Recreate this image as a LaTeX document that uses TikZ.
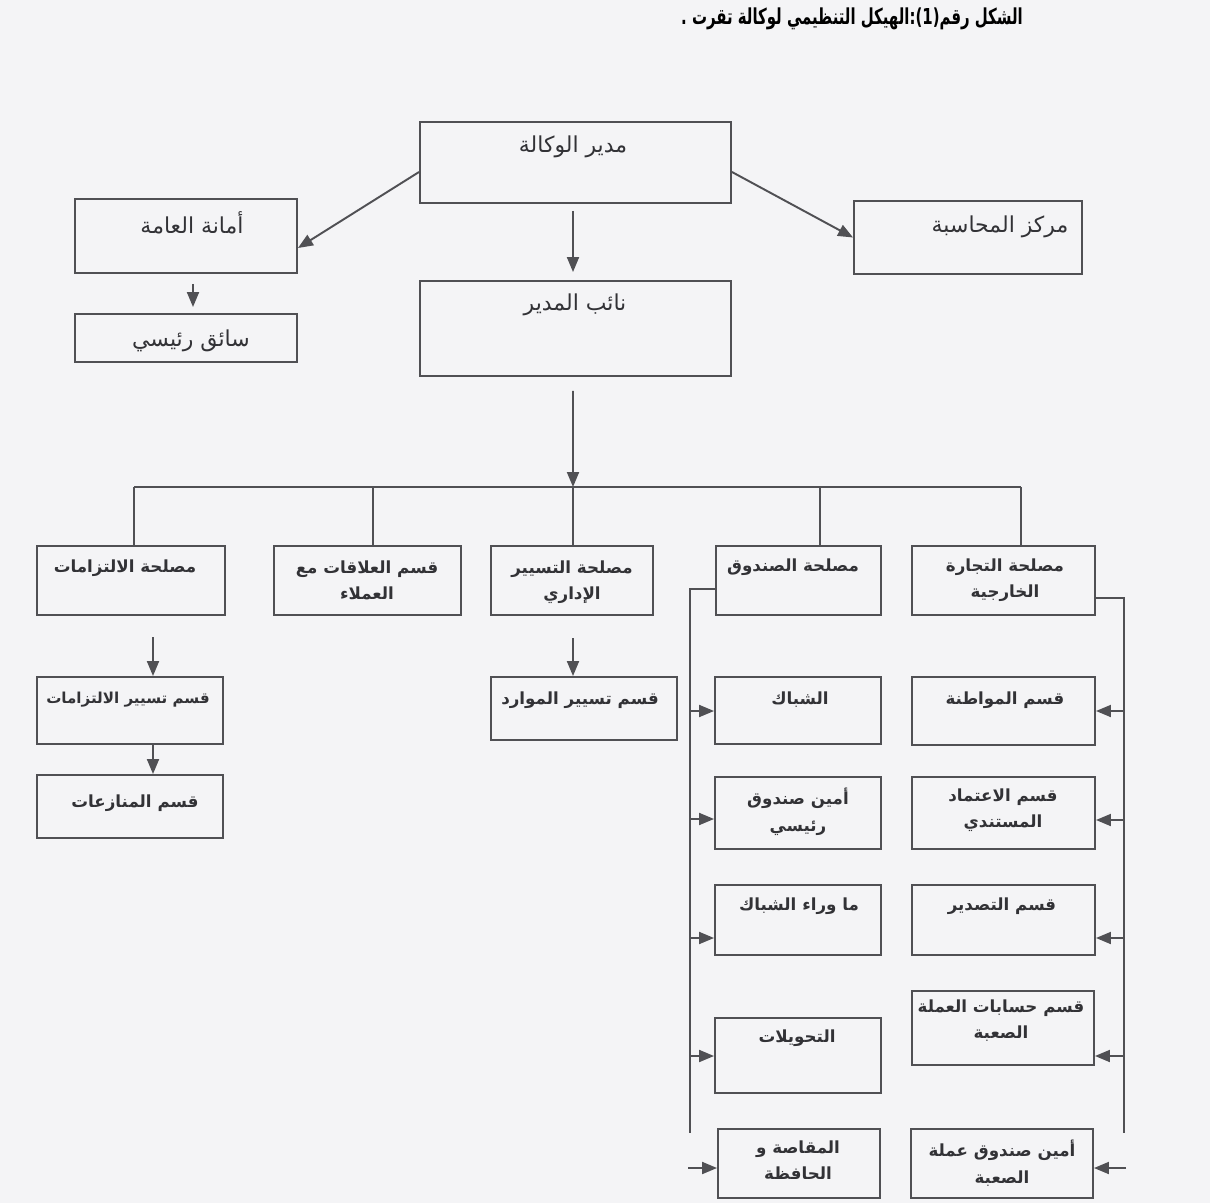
\documentclass[tikz,border=0pt]{standalone}
\usepackage{fontspec}
\usetikzlibrary{arrows.meta,fit,calc}
\TeXXeTstate=1
\newfontfamily\arabicfont[Script=Arabic]{DejaVu Sans}
\newcommand{\artxt}[1]{{\arabicfont\beginR #1\endR}}
\definecolor{bgc}{RGB}{244,244,246}
\definecolor{lnc}{RGB}{80,80,84}
\definecolor{txc}{RGB}{50,50,54}
\tikzset{
  box/.style={draw=lnc, line width=1.1pt, inner sep=0pt, rectangle},
  ln/.style={draw=lnc, line width=1.1pt},
  arr/.style={ln, -{Triangle[length=0.3cm,width=0.24cm]}},
  bigtxt/.style={text=txc, font=\fontsize{12.5}{16}\selectfont, inner sep=0pt},
  smalltxt/.style={text=txc, font=\bfseries\fontsize{9.5}{15}\selectfont, inner sep=0pt, align=center},
  ttl/.style={text=black, font=\bfseries\fontsize{12.5}{16}\selectfont, inner sep=0pt, xscale=0.68, transform shape}
}
\begin{document}
\begin{tikzpicture}[x=0.02cm,y=-0.02cm]
\fill[bgc] (0,0) rectangle (1210,1203);
\useasboundingbox (0,0) rectangle (1210,1203);

% title
\node[ttl] (title) at (852,19) {\artxt{الشكل رقم(1):الهيكل التنظيمي لوكالة تقرت .}};

% top boxes
\node[box, fit={(420,122)(731,203)}] (dir) {};
\node[box, fit={(75,199)(297,273)}] (sec) {};
\node[box, fit={(854,201)(1082,274)}] (acc) {};
\node[box, fit={(420,281)(731,376)}] (dep) {};
\node[box, fit={(75,314)(297,362)}] (drv) {};

\node[bigtxt] (tdir) at (573,147) {\artxt{مدير الوكالة}};
\node[bigtxt] (tsec) at (192,223) {\artxt{أمانة العامة}};
\node[bigtxt] (tacc) at (1000,227) {\artxt{مركز المحاسبة}};
\node[bigtxt] (tdep) at (575,305) {\artxt{نائب المدير}};
\node[bigtxt] (tdrv) at (191,341) {\artxt{سائق رئيسي}};

% row of services
\node[box, fit={(37,546)(225,615)}] (b1) {};
\node[box, fit={(274,546)(461,615)}] (b2) {};
\node[box, fit={(491,546)(653,615)}] (b3) {};
\node[box, fit={(716,546)(881,615)}] (b4) {};
\node[box, fit={(912,546)(1095,615)}] (b5) {};

\node[smalltxt] (tb1) at (125,568) {\artxt{مصلحة الالتزامات}};
\node[smalltxt, anchor=north] (tb2) at (367,560) {\artxt{قسم العلاقات  مع}\\\artxt{العملاء}};
\node[smalltxt, anchor=north] (tb3) at (572,560) {\artxt{مصلحة التسيير}\\\artxt{الإداري}};
\node[smalltxt] (tb4) at (793,567) {\artxt{مصلحة الصندوق}};
\node[smalltxt, anchor=north] (tb5) at (1005,558) {\artxt{مصلحة التجارة}\\\artxt{الخارجية}};

% left column
\node[box, fit={(37,677)(223,744)}] (c1) {};
\node[box, fit={(37,775)(223,838)}] (c2) {};
\node[smalltxt, font=\bfseries\fontsize{8.6}{15}\selectfont] (tc1) at (128,700) {\artxt{قسم تسيير الالتزامات}};
\node[smalltxt] (tc2) at (135,803) {\artxt{قسم المنازعات}};

% middle
\node[box, fit={(491,677)(677,740)}] (m1) {};
\node[smalltxt] (tm1) at (580,700) {\artxt{قسم تسيير الموارد}};

% cash service column
\node[box, fit={(715,677)(881,744)}] (s1) {};
\node[box, fit={(715,777)(881,849)}] (s2) {};
\node[box, fit={(715,885)(881,955)}] (s3) {};
\node[box, fit={(715,1018)(881,1093)}] (s4) {};
\node[box, fit={(718,1129)(880,1198)}] (s5) {};
\node[smalltxt] (ts1) at (800,700) {\artxt{الشباك}};
\node[smalltxt, anchor=north] (ts2) at (798,788) {\artxt{أمين صندوق}\\\artxt{رئيسي}};
\node[smalltxt] (ts3) at (799,906) {\artxt{ما وراء الشباك}};
\node[smalltxt] (ts4) at (797,1038) {\artxt{التحويلات}};
\node[smalltxt, anchor=north] (ts5) at (798,1140) {\artxt{المقاصة و}\\\artxt{الحافظة}};

% foreign trade column
\node[box, fit={(912,677)(1095,745)}] (r1) {};
\node[box, fit={(912,777)(1095,849)}] (r2) {};
\node[box, fit={(912,885)(1095,955)}] (r3) {};
\node[box, fit={(912,991)(1094,1065)}] (r4) {};
\node[box, fit={(911,1129)(1093,1198)}] (r5) {};
\node[smalltxt] (tr1) at (1005,700) {\artxt{قسم المواطنة}};
\node[smalltxt, anchor=north] (tr2) at (1003,788) {\artxt{قسم الاعتماد}\\\artxt{المستندي}};
\node[smalltxt] (tr3) at (1002,906) {\artxt{قسم التصدير}};
\node[smalltxt, anchor=north] (tr4) at (1001,999) {\artxt{قسم حسابات العملة}\\\artxt{الصعبة}};
\node[smalltxt, anchor=north] (tr5) at (1002,1140) {\artxt{أمين صندوق عملة}\\\artxt{الصعبة}};

% top connectors
\draw[arr] ([yshift=-0.19cm]dir.west) -- ([yshift=-0.24cm]sec.east);
\draw[arr] ([yshift=-0.19cm]dir.east) -- (acc.west);
\draw[arr] ([xshift=-0.05cm,yshift=-0.14cm]dir.south) -- ([xshift=-0.05cm,yshift=0.16cm]dep.north);
\draw[arr] ([xshift=0.14cm,yshift=-0.2cm]sec.south) -- ([xshift=0.14cm,yshift=0.12cm]drv.north);

% bus
\coordinate (d1) at (134,487);
\coordinate (d2) at (373,487);
\coordinate (d3) at (573,487);
\coordinate (d4) at (820,487);
\coordinate (d5) at (1021,487);
\draw[ln] (d1) -- (d5);
\draw[arr] ([xshift=-0.05cm,yshift=-0.28cm]dep.south) -- (d3);
\draw[ln] (d1) -- (d1 |- b1.north);
\draw[ln] (d2) -- (d2 |- b2.north);
\draw[ln] (d3) -- (d3 |- b3.north);
\draw[ln] (d4) -- (d4 |- b4.north);
\draw[ln] (d5) -- (d5 |- b5.north);

% left column arrows
\coordinate (ca) at (153,637);
\draw[arr] (ca) -- (ca |- c1.north);
\draw[arr] (c1.south -| ca) -- (c2.north -| ca);
\coordinate (ma) at (573,638);
\draw[arr] (ma) -- (ma |- m1.north);

% left bus of cash service
\coordinate (lt) at (690,589);
\coordinate (lb) at (690,1133);
\draw[ln] (lt -| b4.west) -- (lt) -- (lb);
\coordinate (la1) at (690,711);
\coordinate (la2) at (690,819);
\coordinate (la3) at (690,938);
\coordinate (la4) at (690,1056);
\coordinate (la5) at (688,1168);
\draw[arr] (la1) -- (la1 -| s1.west);
\draw[arr] (la2) -- (la2 -| s2.west);
\draw[arr] (la3) -- (la3 -| s3.west);
\draw[arr] (la4) -- (la4 -| s4.west);
\draw[arr] (la5) -- (la5 -| s5.west);

% right bus of foreign trade
\coordinate (rt) at (1124,598);
\coordinate (rb) at (1124,1133);
\draw[ln] (rt -| b5.east) -- (rt) -- (rb);
\coordinate (ra1) at (1124,711);
\coordinate (ra2) at (1124,820);
\coordinate (ra3) at (1124,938);
\coordinate (ra4) at (1124,1056);
\coordinate (ra5) at (1126,1168);
\draw[arr] (ra1) -- (ra1 -| r1.east);
\draw[arr] (ra2) -- (ra2 -| r2.east);
\draw[arr] (ra3) -- (ra3 -| r3.east);
\draw[arr] (ra4) -- (ra4 -| r4.east);
\draw[arr] (ra5) -- (ra5 -| r5.east);
\end{tikzpicture}
\end{document}
